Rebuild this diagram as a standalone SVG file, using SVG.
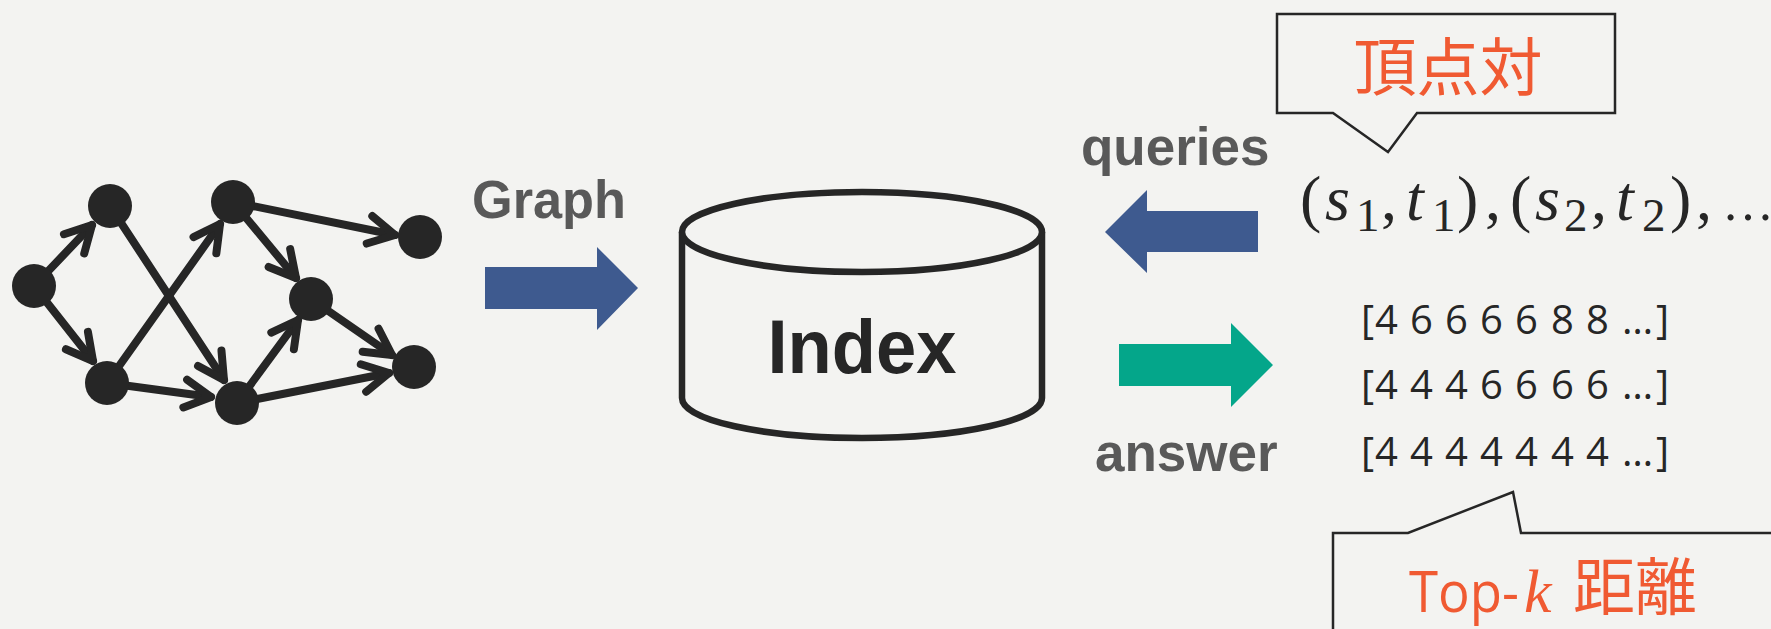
<svg xmlns="http://www.w3.org/2000/svg" width="1771" height="629" viewBox="0 0 1771 629">
  <style>
    .edge { stroke: #262626; stroke-width: 8; stroke-linecap: round; fill: none; }
    .vertex { fill: #262626; }
    .label { font-family: "Liberation Sans", Arial, sans-serif; font-weight: bold; font-size: 53px; fill: #595959; }
    .outline { stroke: #262626; fill: #F3F3F1; }
    .accent { fill: #F05A32; }
    .math { font-family: "Liberation Serif", "Times New Roman", serif; fill: #262626; }
    .row { font-family: "Open Sans", "Noto Sans", sans-serif; font-size: 40px; fill: #262626; }
  </style>
  <defs>
    <marker id="chevron" markerUnits="userSpaceOnUse" orient="auto" refX="0" refY="0" markerWidth="40" markerHeight="40" viewBox="-32 -20 40 40" overflow="visible">
      <path d="M-26,-14 L0,0 L-26,14" fill="none" stroke="#262626" stroke-width="8" stroke-linecap="round" stroke-linejoin="round"/>
    </marker>
  </defs>

  <rect width="1771" height="629" fill="#F3F3F1"/>

  <!-- directed graph edges -->
  <g id="connectors">
    <line class="edge" x1="34" y1="286" x2="92" y2="225" marker-end="url(#chevron)"/>
    <line class="edge" x1="34" y1="286" x2="93" y2="361" marker-end="url(#chevron)"/>
    <line class="edge" x1="110" y1="206" x2="224" y2="380" marker-end="url(#chevron)"/>
    <line class="edge" x1="107" y1="383" x2="220" y2="224" marker-end="url(#chevron)"/>
    <line class="edge" x1="107" y1="383" x2="211" y2="397" marker-end="url(#chevron)"/>
    <line class="edge" x1="233" y1="202" x2="395" y2="235" marker-end="url(#chevron)"/>
    <line class="edge" x1="233" y1="202" x2="296" y2="278" marker-end="url(#chevron)"/>
    <line class="edge" x1="237" y1="403" x2="298" y2="320" marker-end="url(#chevron)"/>
    <line class="edge" x1="311" y1="299" x2="392" y2="355" marker-end="url(#chevron)"/>
    <line class="edge" x1="237" y1="403" x2="389" y2="373" marker-end="url(#chevron)"/>
  </g>

  <!-- graph vertices -->
  <g id="vertex-a"><circle class="vertex" cx="34" cy="286" r="22"/></g>
  <g id="vertex-b"><circle class="vertex" cx="110" cy="206" r="22"/></g>
  <g id="vertex-c"><circle class="vertex" cx="107" cy="383" r="22"/></g>
  <g id="vertex-d"><circle class="vertex" cx="233" cy="202" r="22"/></g>
  <g id="vertex-e"><circle class="vertex" cx="237" cy="403" r="22"/></g>
  <g id="vertex-f"><circle class="vertex" cx="311" cy="299" r="22"/></g>
  <g id="vertex-g"><circle class="vertex" cx="420" cy="237" r="22"/></g>
  <g id="vertex-h"><circle class="vertex" cx="414" cy="367" r="22"/></g>

  <!-- graph input arrow -->
  <g id="graph-input">
    <text class="label" x="472" y="218" textLength="154" lengthAdjust="spacingAndGlyphs">Graph</text>
    <path d="M485,267 H597 V247 L638,288 L597,330 V309 H485 Z" fill="#3E5A8F"/>
  </g>

  <!-- index store -->
  <g id="index">
    <path class="outline" stroke-width="6.5" d="M682,232 V398 A180,40 0 0 0 1042,398 V232"/>
    <ellipse class="outline" stroke-width="6.5" cx="862" cy="232" rx="180" ry="40"/>
    <text x="862" y="373" text-anchor="middle" font-family="Liberation Sans, Arial, sans-serif" font-weight="bold" font-size="76" fill="#262626" textLength="189" lengthAdjust="spacingAndGlyphs">Index</text>
  </g>

  <!-- query arrow -->
  <g id="queries">
    <text class="label" x="1081" y="165">queries</text>
    <path d="M1258,211 H1147 V190 L1105,232 L1147,273 V252 H1258 Z" fill="#3E5A8F"/>
  </g>

  <!-- answer arrow -->
  <g id="answer">
    <path d="M1119,344 H1231 V323 L1273,365 L1231,407 V386 H1119 Z" fill="#04A68A"/>
    <text class="label" x="1095" y="471">answer</text>
  </g>

  <!-- vertex-pair callout -->
  <g id="pair-callout">
    <path class="outline" stroke-width="2.5" d="M1277,14 H1615 V113 H1417 L1388,152 L1333,113 H1277 Z"/>
    <text class="accent" x="1448" y="90" text-anchor="middle" font-family="Noto Sans CJK JP, sans-serif" font-size="63">頂点対</text>
  </g>

  <!-- query pairs -->
  <g id="query-pairs">
    <text class="math" font-size="64" y="220">
      <tspan x="1300">(</tspan><tspan x="1325" font-style="italic">s</tspan><tspan x="1356" y="231" font-size="47">1</tspan><tspan x="1381" y="220">,</tspan><tspan x="1406" font-style="italic">t</tspan><tspan x="1432" y="231" font-size="47">1</tspan><tspan x="1457" y="220">)</tspan><tspan x="1485">,</tspan><tspan x="1510">(</tspan><tspan x="1535" font-style="italic">s</tspan><tspan x="1564" y="231" font-size="47">2</tspan><tspan x="1591" y="220">,</tspan><tspan x="1616" font-style="italic">t</tspan><tspan x="1642" y="231" font-size="47">2</tspan><tspan x="1670" y="220">)</tspan><tspan x="1696">,</tspan><tspan x="1722" font-size="52">…</tspan>
    </text>
  </g>

  <!-- top-k distance lists -->
  <g id="distance-lists">
    <text class="row" y="334" x="1361 1375 1393 1410 1428 1445 1463 1480 1498 1515 1533 1551 1569 1586 1604 1622 1656">[4 6 6 6 6 8 8 …]</text>
    <text class="row" y="399" x="1361 1375 1393 1410 1428 1445 1463 1480 1498 1515 1533 1551 1569 1586 1604 1622 1656">[4 4 4 6 6 6 6 …]</text>
    <text class="row" y="466" x="1361 1375 1393 1410 1428 1445 1463 1480 1498 1515 1533 1551 1569 1586 1604 1622 1656">[4 4 4 4 4 4 4 …]</text>
  </g>

  <!-- top-k distance callout -->
  <g id="topk-callout">
    <path class="outline" stroke-width="2.5" d="M1333,640 V533 H1408 L1513,492 L1521,533 H1780 V640 Z"/>
    <text class="accent" x="1409" y="612" font-family="Open Sans, Noto Sans, sans-serif" font-size="56" textLength="110" lengthAdjust="spacingAndGlyphs">Top-</text>
    <text class="accent" x="1524" y="612" font-family="Liberation Serif, serif" font-style="italic" font-size="62">k</text>
    <text class="accent" x="1573" y="610" font-family="Noto Sans CJK JP, sans-serif" font-size="62">距離</text>
  </g>
</svg>
